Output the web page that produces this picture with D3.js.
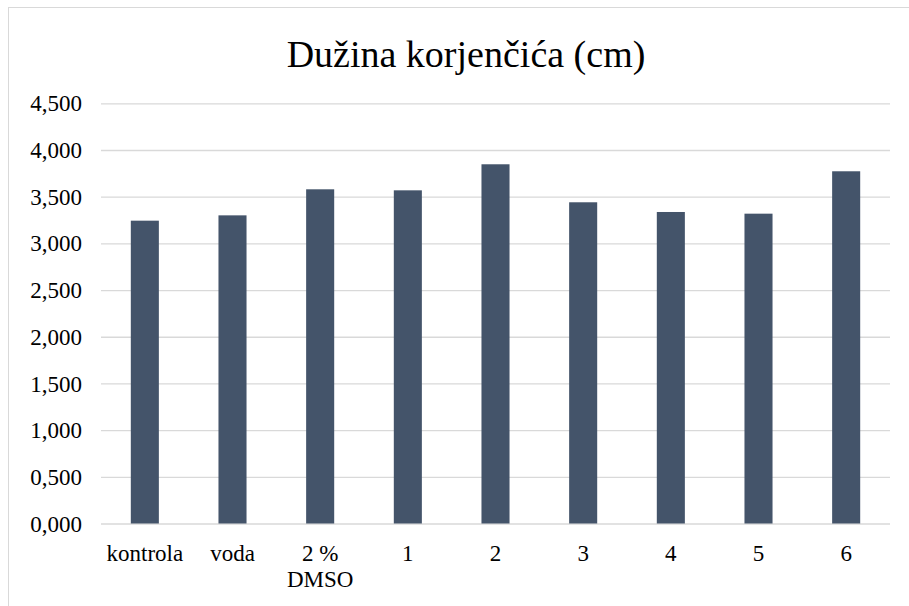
<html>
<head>
<script src="https://d3js.org/d3.v7.min.js"></script>
</head>
<body>
<script>
// values
let categories = ["kontrola", "voda", "2 %\nDMSO", "1", "2", "3", "4", "5", "6"];
let values = [3.243, 3.300, 3.579, 3.568, 3.847, 3.440, 3.336, 3.318, 3.772];
let yTicks = [0, 0.5, 1, 1.5, 2, 2.5, 3, 3.5, 4, 4.5];

let canvasW = 909;
let canvasH = 606;
let plotL = 101, plotR = 890, plotT = 103.3, plotB = 523.5;
let fontName = "Liberation Serif";

d3.select("body").style("margin", "0px");

let svg = d3.select("body").append("svg")
  .attr("width", canvasW)
  .attr("height", canvasH)
  .style("display", "block");

// chart frame
svg.append("rect")
  .attr("x", 8.5).attr("y", 7.5)
  .attr("width", canvasW + 20).attr("height", canvasH + 20)
  .attr("fill", "#fff")
  .attr("stroke", "#d9d9d9")
  .attr("stroke-width", 1);

let x = d3.scaleBand()
  .domain(categories)
  .range([plotL, plotR])
  .paddingInner(0.68)
  .paddingOuter(0.34);

let y = d3.scaleLinear()
  .domain([0, 4.5])
  .range([plotB, plotT]);

let fmt = v => d3.format(",.3f")(v).replace(".", ",");

// gridlines + y labels
let yAxis = g => g
  .attr("transform", `translate(${plotL},0)`)
  .call(d3.axisLeft(y).tickValues(yTicks).tickSize(-(plotR - plotL)).tickPadding(19).tickFormat(fmt))
  .attr("font-family", fontName)
  .call(g => g.select(".domain").remove())
  .call(g => g.selectAll(".tick line").attr("stroke", "#d9d9d9").attr("stroke-width", 1.3))
  .call(g => g.selectAll(".tick text")
    .style("font-family", `"${fontName}"`)
    .attr("font-size", "23px")
    .attr("dy", "0.33em")
    .attr("fill", "#000"));

svg.append("g").call(yAxis);

// bars
svg.selectAll(".bar")
  .data(values)
  .enter()
  .append("rect")
  .attr("class", "bar")
  .attr("fill", "#44546a")
  .attr("x", (d, i) => x(categories[i]))
  .attr("y", d => y(d))
  .attr("width", x.bandwidth())
  .attr("height", d => y(0) - y(d));

// x labels
let labels = svg.selectAll(".xlab")
  .data(categories)
  .enter()
  .append("text")
  .attr("class", "xlab")
  .attr("text-anchor", "middle")
  .style("font-family", `"${fontName}"`)
  .attr("font-size", "23px")
  .attr("fill", "#000")
  .attr("x", d => x(d) + x.bandwidth() / 2)
  .attr("y", 561);

labels.selectAll("tspan")
  .data(d => d.split("\n"))
  .enter()
  .append("tspan")
  .attr("x", function() { return d3.select(this.parentNode).attr("x"); })
  .attr("dy", (d, i) => i == 0 ? 0 : 26)
  .text(d => d);

// title
svg.append("text")
  .attr("x", 466)
  .attr("y", 67)
  .attr("text-anchor", "middle")
  .style("font-family", `"${fontName}"`)
  .attr("font-size", "38px")
  .attr("fill", "#000")
  .text("Dužina korjenčića (cm)");
</script>
</body>
</html>
